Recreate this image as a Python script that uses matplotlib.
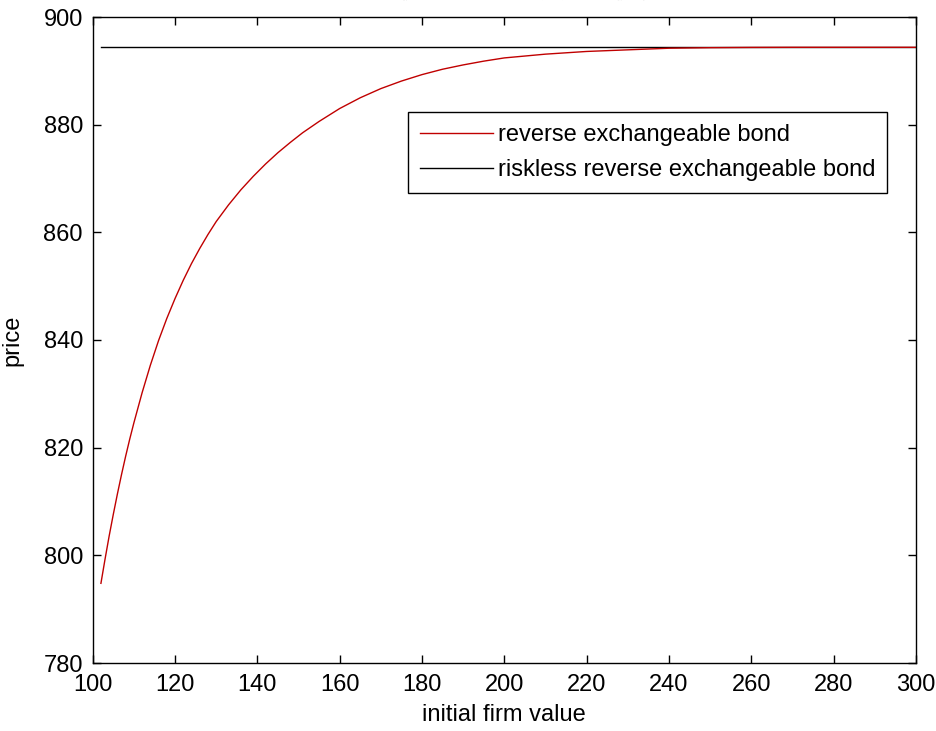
import matplotlib
matplotlib.use("Agg")
import matplotlib.pyplot as plt

plt.rcParams['font.family'] = ['Liberation Sans', 'Noto Sans CJK SC', 'DejaVu Sans']

firm_value = [102, 103, 104, 105, 106, 107, 108, 109, 110, 112, 114, 116, 118, 120,
              122, 124, 126, 128, 130, 133, 136, 139, 142, 145, 148, 151, 155, 160,
              165, 170, 175, 180, 185, 190, 195, 200, 210, 220, 230, 240, 250, 260,
              270, 280, 290, 300]
price = [794.8, 799.3, 803.6, 807.6, 811.4, 815.0, 818.4, 821.6, 824.6, 830.2, 835.3,
         839.9, 844.0, 847.7, 851.1, 854.2, 857.0, 859.6, 862.0, 865.1, 867.9, 870.4,
         872.7, 874.8, 876.7, 878.5, 880.6, 883.0, 885.0, 886.7, 888.1, 889.3, 890.3,
         891.1, 891.8, 892.4, 893.1, 893.6, 893.9, 894.2, 894.3, 894.35, 894.37,
         894.37, 894.37, 894.37]
riskless_x = [102, 300]
riskless_price = [894.37, 894.37]

x_ticks = list(range(100, 301, 20))
y_ticks = list(range(780, 901, 20))

title_text = "不同初始公司价值下反向可交换债券的价格"

fig = plt.figure(figsize=(9.37, 7.31), dpi=100)
ax = fig.add_axes([92.7 / 937, 1 - 663 / 731, (916 - 92.7) / 937, (663 - 17) / 731])

ax.plot(riskless_x, riskless_price, color='black', linewidth=1.0,
        label='riskless reverse exchangeable bond')
ax.plot(firm_value, price, color='#c00000', linewidth=1.0,
        label='reverse exchangeable bond')

ax.set_xlim(100, 300)
ax.set_ylim(780, 900)
ax.set_xticks(x_ticks)
ax.set_yticks(y_ticks)
ax.tick_params(direction='in', top=True, right=True, length=6, width=1,
               labelsize=17)
ax.tick_params(axis='x', pad=8)
ax.tick_params(axis='y', pad=7)
for s in ax.spines.values():
    s.set_linewidth(1.0)

ax.set_xlabel('initial firm value', fontsize=17)
ax.set_ylabel('price', fontsize=17)
ax.xaxis.set_label_coords(0.5, (663 - 715) / 646, transform=ax.transAxes)
ax.xaxis.label.set_va('center')
ax.yaxis.set_label_coords((12 - 92.7) / 823.3, 0.5, transform=ax.transAxes)
ax.yaxis.label.set_va('center')

handles, labels = ax.get_legend_handles_labels()
leg = ax.legend(handles[::-1], labels[::-1], loc='upper right',
                bbox_to_anchor=((887 - 92.7) / (916 - 92.7), (663 - 112) / (663 - 17)),
                fontsize=17, frameon=True, fancybox=False, framealpha=1,
                edgecolor='black', borderpad=0.5, handlelength=3.1,
                handletextpad=0.2, labelspacing=0.55, borderaxespad=0)
leg.get_frame().set_linewidth(1.0)

fig.text(0.5, 1 - 3 / 731, title_text, ha='center', va='bottom', fontsize=14,
         family=['Noto Sans CJK SC', 'DejaVu Sans'])

fig.savefig('out.png', dpi=100, facecolor='white')
